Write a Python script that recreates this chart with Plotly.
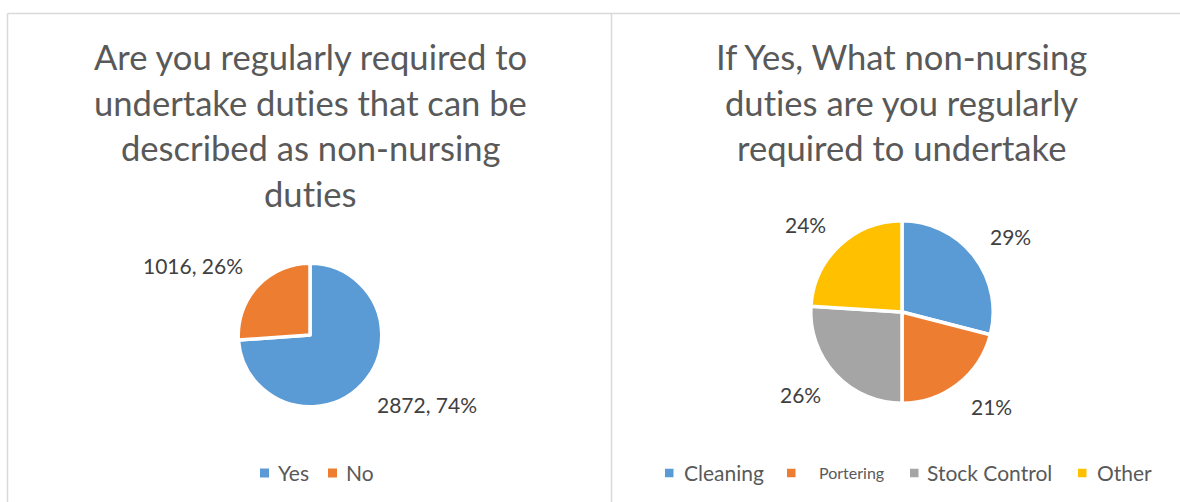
import math
import plotly.graph_objects as go

# ---- survey data -------------------------------------------------------
q1_labels = ["Yes", "No"]
q1_values = [2872, 1016]

q2_labels = ["Cleaning", "Portering", "Stock Control", "Other"]
q2_values = [29, 21, 26, 24]

q1_title = ["Are you regularly required to",
            "undertake duties that can be",
            "described as non-nursing",
            "duties"]
q2_title = ["If Yes, What non-nursing",
            "duties are you regularly",
            "required to undertake"]

# ---- styling / layout constants ----------------------------------------
W, H = 1180, 502
PALETTE = ["#5B9BD5", "#ED7D31", "#A5A5A5", "#FFC000"]
FONT = "Lato"
TITLE_COLOR = "#595959"
LABEL_COLOR = "#404040"
BORDER = "#D9D9D9"
EDGE_W = 3.5          # white separator between slices
LABEL_GAP = 19        # distance from pie rim to nearest label corner (px)
TITLE_SIZE = 34.6
LABEL_SIZE = 21
LEGEND_SIZE = 21

panels = [
    dict(labels=q1_labels, values=q1_values, title=q1_title,
         cx=310, cy=335, r=70, tx=310,
         fmt=lambda v, p: f"{v}, {p}%",
         legend_sq=[260, 328], legend_txt=[276, 344],
         legend_sizes=[LEGEND_SIZE, LEGEND_SIZE], sq=9),
    dict(labels=q2_labels, values=q2_values, title=q2_title,
         cx=902, cy=312, r=89.5, tx=901,
         fmt=lambda v, p: f"{p}%",
         legend_sq=[665, 787, 910, 1078], legend_txt=[682, 817, 925, 1095],
         legend_sizes=[LEGEND_SIZE, 16, LEGEND_SIZE, LEGEND_SIZE], sq=8.5),
]
TITLE_Y = [56, 102, 148, 193]
LEGEND_Y = 473


def px(x):
    return x / W


def py(y):
    return 1 - y / H


def no_lig(s):
    # keep Lato from swapping "ti" for its ligature glyph
    return s.replace("ti", "t\u200ci")


fig = go.Figure()
annotations = []
shapes = []

for p in panels:
    R = p["r"] + EDGE_W / 2
    fig.add_trace(go.Pie(
        labels=p["labels"], values=p["values"],
        sort=False, direction="clockwise", rotation=0,
        marker=dict(colors=PALETTE[:len(p["values"])],
                    line=dict(color="white", width=EDGE_W)),
        textinfo="none", showlegend=False,
        domain=dict(x=[px(p["cx"] - R), px(p["cx"] + R)],
                    y=[py(p["cy"] + R), py(p["cy"] - R)]),
    ))

    # data labels placed just outside each slice, along its mid angle
    total = sum(p["values"])
    cum = 0
    for v in p["values"]:
        mid = (cum + v / 2) / total
        cum += v
        pct = round(100 * v / total)
        th = 2 * math.pi * mid
        dx, dy = math.sin(th), -math.cos(th)
        d = p["r"] + LABEL_GAP
        ax = p["cx"] + d * dx
        ay = p["cy"] + d * dy
        xa = "left" if dx > 0.25 else ("right" if dx < -0.25 else "center")
        if dy > 0.25:
            ya, ay = "top", ay - 6
        elif dy < -0.25:
            ya, ay = "bottom", ay + 6
        else:
            ya = "middle"
        annotations.append(dict(
            x=px(ax), y=py(ay), xref="paper", yref="paper",
            xanchor=xa, yanchor=ya, showarrow=False,
            text=p["fmt"](v, pct),
            font=dict(family=FONT, size=LABEL_SIZE, color=LABEL_COLOR)))

    # title, one annotation per line
    for i, line in enumerate(p["title"]):
        annotations.append(dict(
            x=px(p["tx"]), y=py(TITLE_Y[i]), xref="paper", yref="paper",
            xanchor="center", yanchor="middle", showarrow=False, text=no_lig(line),
            font=dict(family=FONT, size=TITLE_SIZE, color=TITLE_COLOR)))

    # legend: coloured squares + names
    for i, name in enumerate(p["labels"]):
        x0 = p["legend_sq"][i]
        s = p["sq"]
        shapes.append(dict(
            type="rect", xref="paper", yref="paper",
            x0=px(x0), x1=px(x0 + s),
            y0=py(LEGEND_Y + s / 2), y1=py(LEGEND_Y - s / 2),
            fillcolor=PALETTE[i], line=dict(width=0)))
        annotations.append(dict(
            x=px(p["legend_txt"][i]), y=py(LEGEND_Y - 1), xref="paper", yref="paper",
            xanchor="left", yanchor="middle", showarrow=False, text=name,
            font=dict(family=FONT, size=p["legend_sizes"][i], color=TITLE_COLOR)))

# chart-area borders
for (x0, y0, x1, y1) in [(7.5, 13.5, W, 13.5), (7.5, 13.5, 7.5, H), (611.5, 13.5, 611.5, H)]:
    shapes.append(dict(type="line", xref="paper", yref="paper",
                       x0=px(x0), y0=py(y0), x1=px(x1), y1=py(y1),
                       line=dict(color=BORDER, width=1.5)))

fig.update_layout(
    width=W, height=H,
    margin=dict(l=0, r=0, t=0, b=0),
    paper_bgcolor="white", plot_bgcolor="white",
    annotations=annotations, shapes=shapes,
    showlegend=False,
)

fig.write_html("out.html")
